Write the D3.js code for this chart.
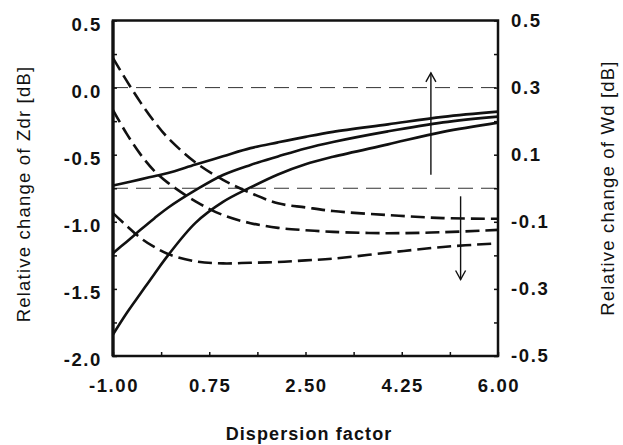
<!DOCTYPE html>
<html>
<head>
<meta charset="utf-8">
<script src="https://cdn.jsdelivr.net/npm/d3@7"></script>
<style>
  body { margin: 0; background: #fff; }
  text { font-family: "Liberation Sans", Arial, sans-serif; fill: #111; }
</style>
</head>
<body>
<div id="chart"></div>
<script>
// dispersion factor values where the curves were read
var xVals = [-1, -0.75, -0.5, -0.25, 0, 0.5, 1, 1.5, 2, 2.5, 3, 4, 5, 6];

// solid curves: relative change of Zdr (left axis)
var zdr1 = [-0.730, -0.707, -0.684, -0.660, -0.636, -0.573, -0.512, -0.451, -0.408, -0.367, -0.330, -0.274, -0.218, -0.179];
var zdr2 = [-1.234, -1.148, -1.060, -0.975, -0.895, -0.764, -0.651, -0.576, -0.513, -0.453, -0.405, -0.326, -0.259, -0.216];
var zdr3 = [-1.84, -1.68, -1.535, -1.39, -1.25, -1.008, -0.852, -0.744, -0.647, -0.571, -0.516, -0.423, -0.330, -0.261];

// dashed curves: relative change of Wd (right axis)
var wd1 = [0.388, 0.320, 0.256, 0.199, 0.150, 0.077, 0.025, -0.014, -0.045, -0.057, -0.068, -0.080, -0.089, -0.091];
var wd2 = [0.233, 0.162, 0.101, 0.052, 0.016, -0.039, -0.080, -0.104, -0.118, -0.125, -0.130, -0.134, -0.131, -0.124];
var wd3 = [-0.074, -0.112, -0.148, -0.175, -0.196, -0.218, -0.224, -0.222, -0.220, -0.215, -0.210, -0.192, -0.175, -0.164];

// tick labels
var xTicks = [-1, 0.75, 2.5, 4.25, 6];
var leftTicks = [0.5, 0, -0.5, -1, -1.5, -2];
var rightTicks = [0.5, 0.3, 0.1, -0.1, -0.3, -0.5];
// horizontal reference lines (left axis units)
var refLines = [0, -0.75];
// arrows (x, start, end in left axis units)
var arrowX = [4.78, 5.32];
var arrowFrom = [-0.65, -0.81];
var arrowTo = [0.11, -1.43];

var W = 623, H = 445;
var margin = {top: 20.5, right: 125, bottom: 89, left: 113};
var width = W - margin.left - margin.right,
    height = H - margin.top - margin.bottom;

var svg = d3.select("#chart").append("svg")
    .attr("width", W).attr("height", H);

var defs = svg.append("defs");
defs.append("marker")
    .attr("id", "head")
    .attr("viewBox", "0 0 12 12")
    .attr("refX", 10).attr("refY", 6)
    .attr("markerWidth", 12).attr("markerHeight", 12)
    .attr("markerUnits", "userSpaceOnUse")
    .attr("orient", "auto")
    .append("path")
    .attr("d", "M1,1 L10,6 L1,11")
    .attr("fill", "none")
    .attr("stroke", "#111")
    .attr("stroke-width", 1.4);

var g = svg.append("g")
    .attr("transform", "translate(" + margin.left + "," + margin.top + ")");

var x = d3.scaleLinear().domain([-1, 6]).range([0, width]);
var y = d3.scaleLinear().domain([-2, 0.5]).range([height, 0]);
var yR = d3.scaleLinear().domain([-0.5, 0.5]).range([height, 0]);

// reference dashed lines
g.selectAll(".ref").data(refLines).enter().append("line")
    .attr("x1", 0).attr("x2", width)
    .attr("y1", d => y(d)).attr("y2", d => y(d))
    .attr("stroke", "#333").attr("stroke-width", 1)
    .attr("stroke-dasharray", "15,8");

var lineL = d3.line().x((d, i) => x(xVals[i])).y(d => y(d)).curve(d3.curveCatmullRom.alpha(0.5));
var lineR = d3.line().x((d, i) => x(xVals[i])).y(d => yR(d)).curve(d3.curveCatmullRom.alpha(0.5));

[zdr1, zdr2, zdr3].forEach(function (s) {
    g.append("path").datum(s)
        .attr("fill", "none").attr("stroke", "#111")
        .attr("stroke-width", 2.6)
        .attr("d", lineL);
});
[wd1, wd2, wd3].forEach(function (s) {
    g.append("path").datum(s)
        .attr("fill", "none").attr("stroke", "#111")
        .attr("stroke-width", 2.6)
        .attr("stroke-dasharray", "14,6")
        .attr("d", lineR);
});

// arrows
arrowX.forEach(function (ax, i) {
    g.append("line")
        .attr("x1", x(ax)).attr("x2", x(ax))
        .attr("y1", y(arrowFrom[i])).attr("y2", y(arrowTo[i]))
        .attr("stroke", "#111").attr("stroke-width", 1.4)
        .attr("marker-end", "url(#head)");
});

// frame
g.append("rect")
    .attr("x", 0).attr("y", 0).attr("width", width).attr("height", height)
    .attr("fill", "none").attr("stroke", "#111").attr("stroke-width", 2.5);
g.append("line").attr("x1", 0).attr("x2", 0).attr("y1", 0).attr("y2", height)
    .attr("stroke", "#111").attr("stroke-width", 3.2);

// axes with inward ticks
var xAxis = g.append("g").attr("transform", "translate(0," + height + ")")
    .call(d3.axisBottom(x).tickValues(d3.range(-1, 6.01, 0.875)).tickSize(-4).tickFormat(""));
var yAxis = g.append("g")
    .call(d3.axisLeft(y).tickValues(d3.range(-2, 0.51, 0.25)).tickSize(-4).tickFormat(""));
var yAxisR = g.append("g").attr("transform", "translate(" + width + ",0)")
    .call(d3.axisRight(yR).tickValues(d3.range(-0.5, 0.51, 0.1)).tickSize(-4).tickFormat(""));
[xAxis, yAxis, yAxisR].forEach(function (a) {
    a.select(".domain").remove();
    a.selectAll("line").attr("stroke", "#111").attr("stroke-width", 1.5);
});

// tick labels
var lab = {"font-size": "18.5px", "font-weight": "bold", "letter-spacing": "1.6px"};
function style(sel) { Object.keys(lab).forEach(k => sel.style(k, lab[k])); return sel; }

style(g.selectAll(".xl").data(xTicks).enter().append("text")
    .attr("x", d => x(d) + 1).attr("y", height + 36)
    .attr("text-anchor", "middle")
    .text(d => d.toFixed(2)));

style(g.selectAll(".yl").data(leftTicks).enter().append("text")
    .attr("x", -11).attr("y", d => y(d) + 4)
    .attr("dy", "0.35em")
    .attr("text-anchor", "end")
    .text(d => d.toFixed(1)));

style(g.selectAll(".yr").data(rightTicks).enter().append("text")
    .attr("x", width + 13).attr("y", d => yR(d))
    .attr("dy", "0.35em")
    .text(d => d.toFixed(1)));

// axis titles
var title = {"font-size": "18.5px", "letter-spacing": "1.2px"};
svg.append("text")
    .attr("transform", "translate(30,194) rotate(-90)")
    .attr("text-anchor", "middle")
    .style("font-size", title["font-size"]).style("letter-spacing", title["letter-spacing"])
    .text("Relative change of Zdr [dB]");
svg.append("text")
    .attr("transform", "translate(614,188) rotate(-90)")
    .attr("text-anchor", "middle")
    .style("font-size", title["font-size"]).style("letter-spacing", title["letter-spacing"])
    .text("Relative change of Wd [dB]");
svg.append("text")
    .attr("x", 309).attr("y", 440)
    .attr("text-anchor", "middle")
    .style("font-size", "18px").style("font-weight", "bold").style("letter-spacing", "1.1px")
    .text("Dispersion factor");
</script>
</body>
</html>
